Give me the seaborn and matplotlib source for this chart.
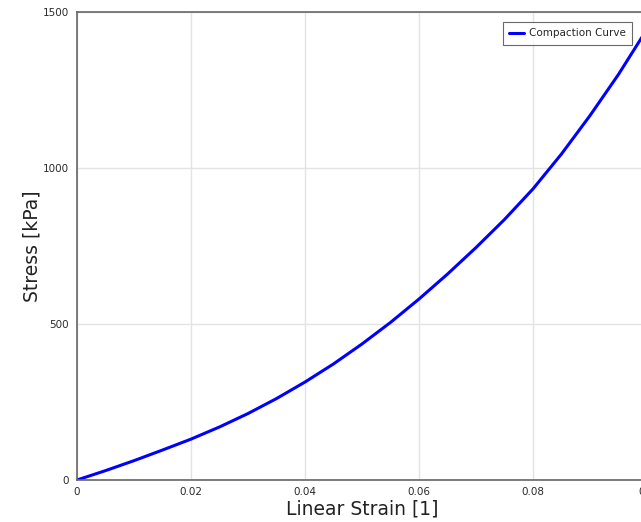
import matplotlib
matplotlib.use("Agg")
import matplotlib.pyplot as plt
import numpy as np
import pandas as pd
import seaborn as sns

# values
strain = [0.0, 0.005, 0.01, 0.015, 0.02, 0.025, 0.03, 0.035, 0.04, 0.045, 0.05,
          0.055, 0.06, 0.065, 0.07, 0.075, 0.08, 0.085, 0.09, 0.095, 0.1]
stress = [0, 30, 62, 96, 131, 170, 213, 261, 314, 372, 436,
          505, 580, 660, 745, 835, 933, 1045, 1168, 1300, 1445]
xticks = [0, 0.02, 0.04, 0.06, 0.08, 0.1]
xticklabels = ["0", "0.02", "0.04", "0.06", "0.08", "0.1"]
yticks = [0, 500, 1000, 1500]

df = pd.DataFrame({"Linear Strain": strain, "Stress": stress})

sns.set_style("white")
plt.rcParams['font.family'] = ['DejaVu Sans']

fig = plt.figure(figsize=(6.41, 5.22), dpi=100)
ax = fig.add_axes([77 / 641, 42 / 522, 570 / 641, 468 / 522])

sns.lineplot(data=df, x="Linear Strain", y="Stress", ax=ax, color="#0000ff",
             linewidth=2.2, label="Compaction Curve")

ax.set_xlim(0, 0.1)
ax.set_ylim(0, 1500)
ax.set_xticks(xticks)
ax.set_xticklabels(xticklabels)
ax.set_yticks(yticks)
ax.grid(True, color="#e3e3e3", linewidth=1)
ax.tick_params(axis='both', labelsize=7.5, colors="#555555", length=2, width=1,
               labelcolor="#2a2a2a")
ax.tick_params(axis='x', pad=3)
ax.tick_params(axis='y', pad=4)
for s in ax.spines.values():
    s.set_color("#666666")
    s.set_linewidth(1.2)

ax.set_xlabel("Linear Strain [1]", fontsize=13.5, color="#222222", labelpad=2)
ax.set_ylabel("Stress [kPa]", fontsize=13.5, color="#222222", labelpad=1)

leg = ax.legend(loc="upper right", bbox_to_anchor=(555 / 570, 458 / 468),
                borderaxespad=0, fontsize=7.5, frameon=True, fancybox=False,
                handlelength=1.4, borderpad=0.6, handletextpad=0.5)
leg.get_frame().set_edgecolor("#444444")
leg.get_frame().set_linewidth(0.8)

plt.savefig("out.png", dpi=100)
